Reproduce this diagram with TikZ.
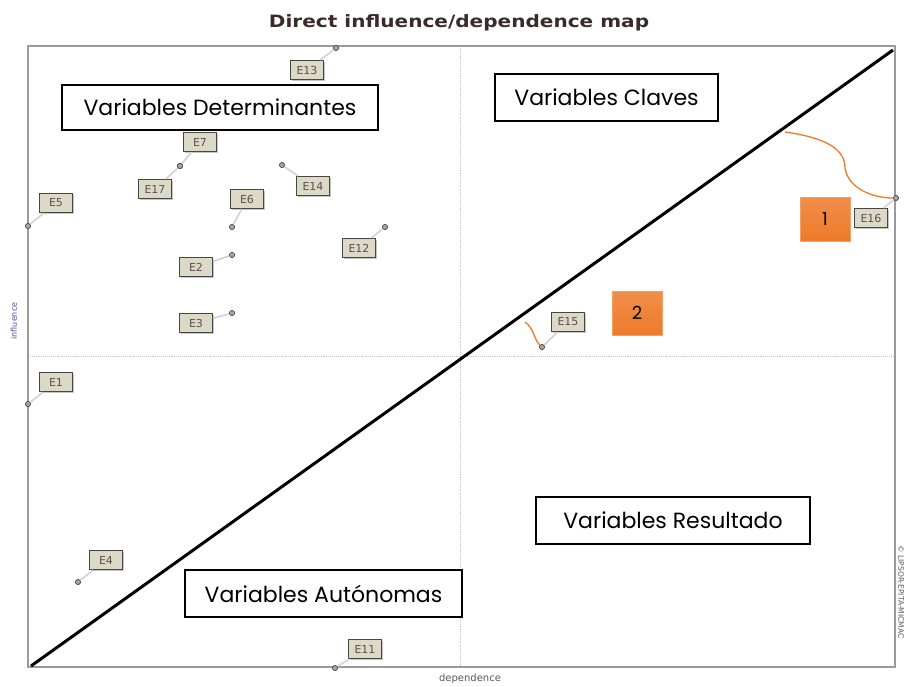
\documentclass[tikz,border=0pt]{standalone}
\usepackage{fontspec}
\setmainfont{DejaVu Sans}
\newfontfamily\boxfont{Poppins}
\usetikzlibrary{shadows}
\definecolor{framegray}{HTML}{9A9A9A}
\definecolor{tagorange}{HTML}{EE7A2A}
\definecolor{tagedge}{HTML}{F4A060}
\definecolor{labelfill}{HTML}{DCDAC6}
\definecolor{labeltext}{HTML}{5E4E52}
\definecolor{titlecol}{HTML}{3A2A2A}
\tikzset{
  px/.style={x=1pt,y=-1pt},
  catbox/.style={draw=black,line width=1.3pt,fill=white,inner sep=0pt,
    font=\boxfont\fontsize{22}{24}\selectfont},
  tagbox/.style={draw=tagedge,line width=0.8pt,top color=tagorange!85!white,bottom color=tagorange,
    minimum width=50pt,minimum height=44pt,inner sep=0pt,font=\boxfont\fontsize{18}{20}\selectfont},
  elabel/.style={draw=gray!55!black,line width=1.2pt,fill=labelfill,minimum width=33pt,
    minimum height=19pt,inner sep=0pt,text=labeltext,font=\fontsize{11}{12}\selectfont,
    drop shadow={shadow xshift=1.5pt,shadow yshift=-1.5pt,opacity=0.45}},
  mapdot/.style={circle,fill=gray!70,draw=gray!50!black,line width=0.5pt,minimum size=5pt,inner sep=0pt},
  lead/.style={draw=gray!35,line width=1.6pt},
  frameline/.style={draw=framegray,line width=2.6pt},
  midline/.style={draw=gray!45,line width=0.9pt,densely dotted},
  diag/.style={draw=black,line width=3pt},
  link/.style={draw=tagorange,line width=1.3pt}
}
\begin{document}
\begin{tikzpicture}[px]
\useasboundingbox (0,0) rectangle (904,686);
\fill[white] (0,0) rectangle (904,686);

% title
\node[text=titlecol,font=\bfseries\fontsize{17}{19}\selectfont,xscale=1.18] (title) at (459,23) {Direct influence/dependence map};

% plot area
\coordinate (fTL) at (28,46);
\coordinate (fBR) at (895,667);
\coordinate (mT) at (460,46);
\coordinate (mB) at (460,667);
\coordinate (mL) at (28,356);
\coordinate (mR) at (895,356);
\draw[midline] (mT) -- (mB);
\draw[midline] (mL) -- (mR);
\draw[frameline] (fTL) rectangle (fBR);

% axis captions
\node[rotate=90,text=gray!60!blue,font=\fontsize{8}{9}\selectfont] (yax) at (14,321) {influence};
\node[text=gray!70!black,font=\fontsize{10}{11}\selectfont] (xax) at (470,679) {dependence};
\node[rotate=-90,text=gray!70!black,font=\fontsize{7.5}{8}\selectfont] (copy) at (901,592) {© LIPSOR-EPITA-MICMAC};

% diagonal
\coordinate (o) at (31,666);
\coordinate (tr) at (893,50);
\draw[diag] (o) -- (tr);

% variable points
\foreach \nm/\dx/\dy/\lx/\ly in {
  E13/336/48/307/70,
  E7/180/166/200/142,
  E17/180/166/155/189,
  E5/28/226/56/203,
  E6/232/227/247/199,
  E14/282/165/313/186,
  E12/385/227/359/248,
  E2/232/255/196/267,
  E3/232/313/196/323,
  E1/28/404/56/382,
  E4/78/582/106/560,
  E11/335/668/365/649,
  E16/896/198/871/218,
  E15/542/347/568/322}{
  \node[mapdot] (d\nm) at (\dx,\dy) {};
  \node[elabel] (l\nm) at (\lx,\ly) {\nm};
  \draw[lead] (d\nm) -- (l\nm);
  \node[mapdot] at (d\nm) {};
}

% quadrant captions
\node[catbox,minimum width=316pt,minimum height=45pt] (det) at (220,107.5) {Variables Determinantes};
\node[catbox,minimum width=223pt,minimum height=47pt] (cla) at (606.5,97.5) {Variables Claves};
\node[catbox,minimum width=274pt,minimum height=47pt] (res) at (673,520.5) {Variables Resultado};
\node[catbox,minimum width=277pt,minimum height=47pt] (aut) at (323.5,593.5) {Variables Autónomas};

% numbered markers
\node[tagbox] (t1) at (825,219) {1};
\node[tagbox] (t2) at (637,313) {2};

% curved links
\coordinate (c1) at (785,132);
\coordinate (c2) at (525,322);
\draw[link] (c1) .. controls (828,138) and (845,150) .. (845,168)
  .. controls (848,188) and (872,198) .. (dE16);
\draw[link] (c2) .. controls (534,328) and (534,340) .. (dE15);
\end{tikzpicture}
\end{document}
